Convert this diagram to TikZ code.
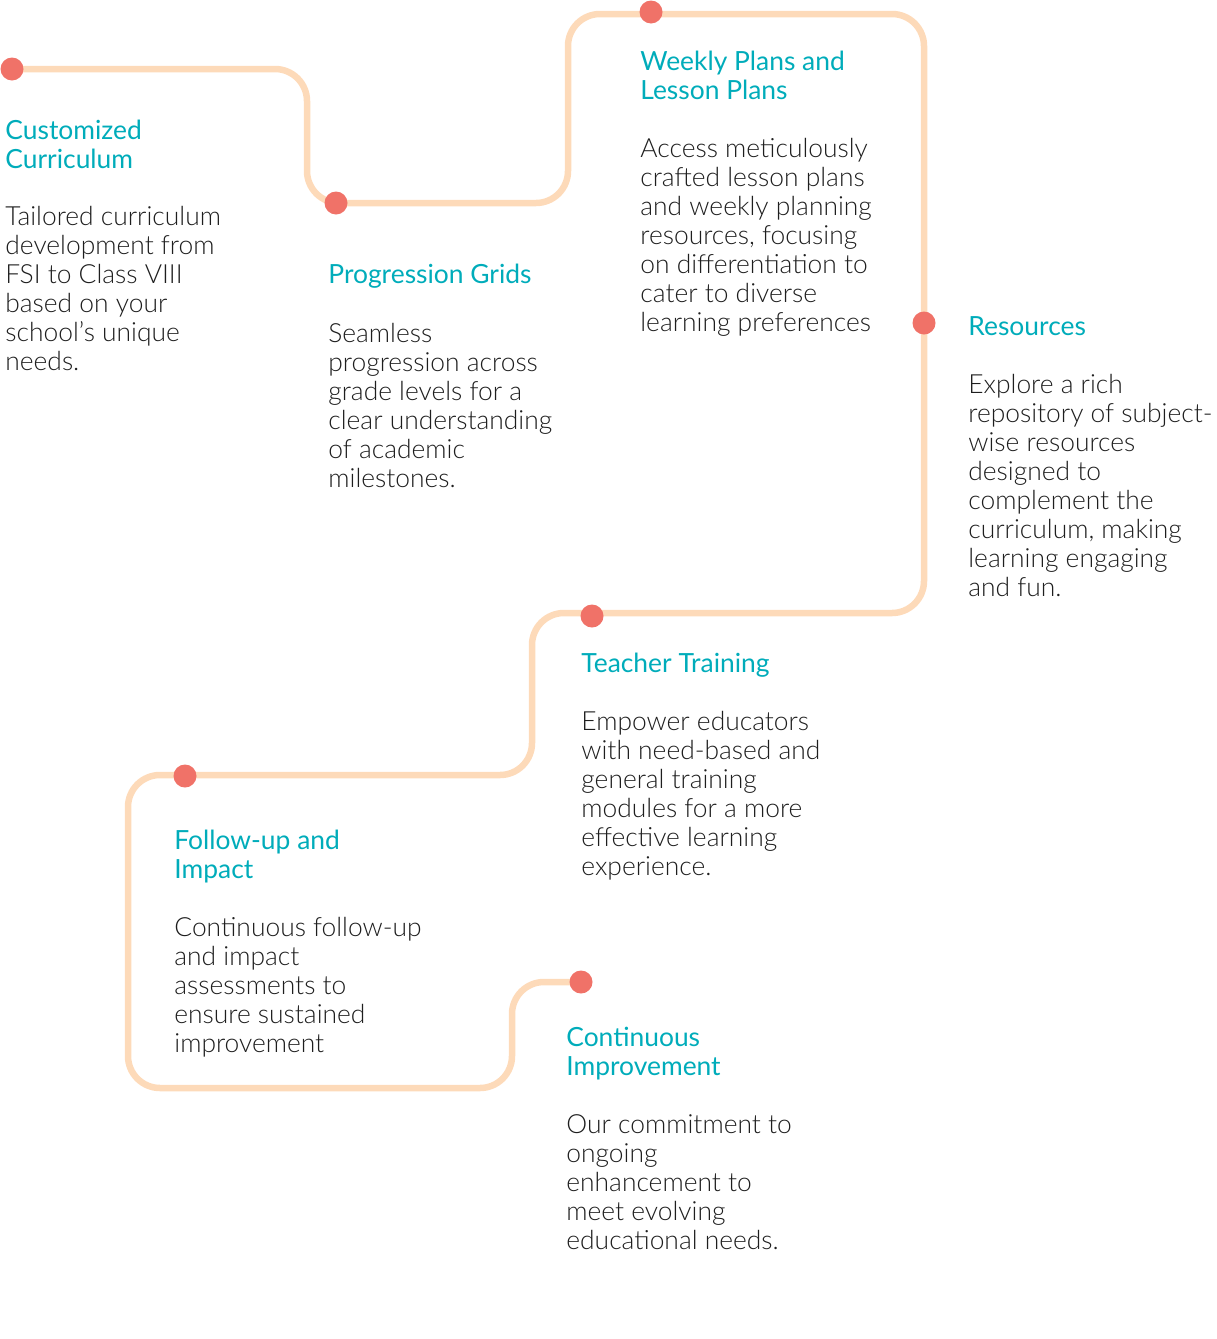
\documentclass[tikz,border=0pt]{standalone}
\usepackage{fontspec}
\setmainfont{Lato Light}
\newfontfamily\headfont{Lato}
\definecolor{trackpeach}{RGB}{253,218,185}
\definecolor{dotred}{RGB}{240,114,104}
\definecolor{headteal}{RGB}{0,172,186}
\definecolor{bodygrey}{RGB}{30,30,30}
\tikzset{
  track/.style={draw=trackpeach, line width=3.25pt, rounded corners=16pt},
  stepdot/.style={circle, fill=dotred, minimum size=11.5pt, inner sep=0pt},
  % text blocks are anchored at the baseline of their last line
  head/.style={anchor=base west, inner sep=0pt, align=left, text=headteal,
    font=\headfont\fontsize{13.2}{14.5}\selectfont},
  body/.style={anchor=base west, inner sep=0pt, align=left, text=bodygrey,
    font=\fontsize{13.2}{14.5}\selectfont},
}
\begin{document}
\begin{tikzpicture}[x=0.5pt, y=-0.5pt]
\useasboundingbox (0,0) rectangle (1216,1339);
% corners of the winding track
\coordinate (p0) at (12,69);
\coordinate (p1) at (307,69);
\coordinate (p2) at (307,203);
\coordinate (p3) at (568,203);
\coordinate (p4) at (568,14);
\coordinate (p5) at (924,14);
\coordinate (p6) at (924,613);
\coordinate (p7) at (532,613);
\coordinate (p8) at (532,775);
\coordinate (p9) at (128,775);
\coordinate (p10) at (128,1088);
\coordinate (p11) at (512,1088);
\coordinate (p12) at (512,982);
\coordinate (p13) at (581,982);
\draw[track] (p0) -- (p1) -- (p2) -- (p3) -- (p4) -- (p5) -- (p6) -- (p7)
  -- (p8) -- (p9) -- (p10) -- (p11) -- (p12) -- (p13);
% milestone dots
\node[stepdot] (d1) at (12,69) {};
\node[stepdot] (d2) at (336,203) {};
\node[stepdot] (d3) at (651,12) {};
\node[stepdot] (d4) at (924,323) {};
\node[stepdot] (d5) at (592,616) {};
\node[stepdot] (d6) at (185,776) {};
\node[stepdot] (d7) at (581,982) {};
% headings and descriptions
\node[head] (h1) at (5,168) {Customized\\Curriculum};
\node[body] (b1) at (5,370) {Tailored curriculum\\development from\\FSI to Class VIII\\based on your\\school's unique\\needs.};
\node[head] (h2) at (328,283) {Progression Grids};
\node[body] (b2) at (328,487) {Seamless\\progression across\\grade levels for a\\clear understanding\\of academic\\milestones.};
\node[head] (h3) at (640,99) {Weekly Plans and\\Lesson Plans};
\node[body] (b3) at (640,331) {Access meticulously\\crafted lesson plans\\and weekly planning\\resources, focusing\\on differentiation to\\cater to diverse\\learning preferences};
\node[head] (h4) at (968,335) {Resources};
\node[body] (b4) at (968,596) {Explore a rich\\repository of subject-\\wise resources\\designed to\\complement the\\curriculum, making\\learning engaging\\and fun.};
\node[head] (h5) at (581,672) {Teacher Training};
\node[body] (b5) at (581,875) {Empower educators\\with need-based and\\general training\\modules for a more\\effective learning\\experience.};
\node[head] (h6) at (174,878) {Follow-up and\\Impact};
\node[body] (b6) at (174,1052) {Continuous follow-up\\and impact\\assessments to\\ensure sustained\\improvement};
\node[head] (h7) at (566,1075) {Continuous\\Improvement};
\node[body] (b7) at (566,1249) {Our commitment to\\ongoing\\enhancement to\\meet evolving\\educational needs.};
\end{tikzpicture}
\end{document}
